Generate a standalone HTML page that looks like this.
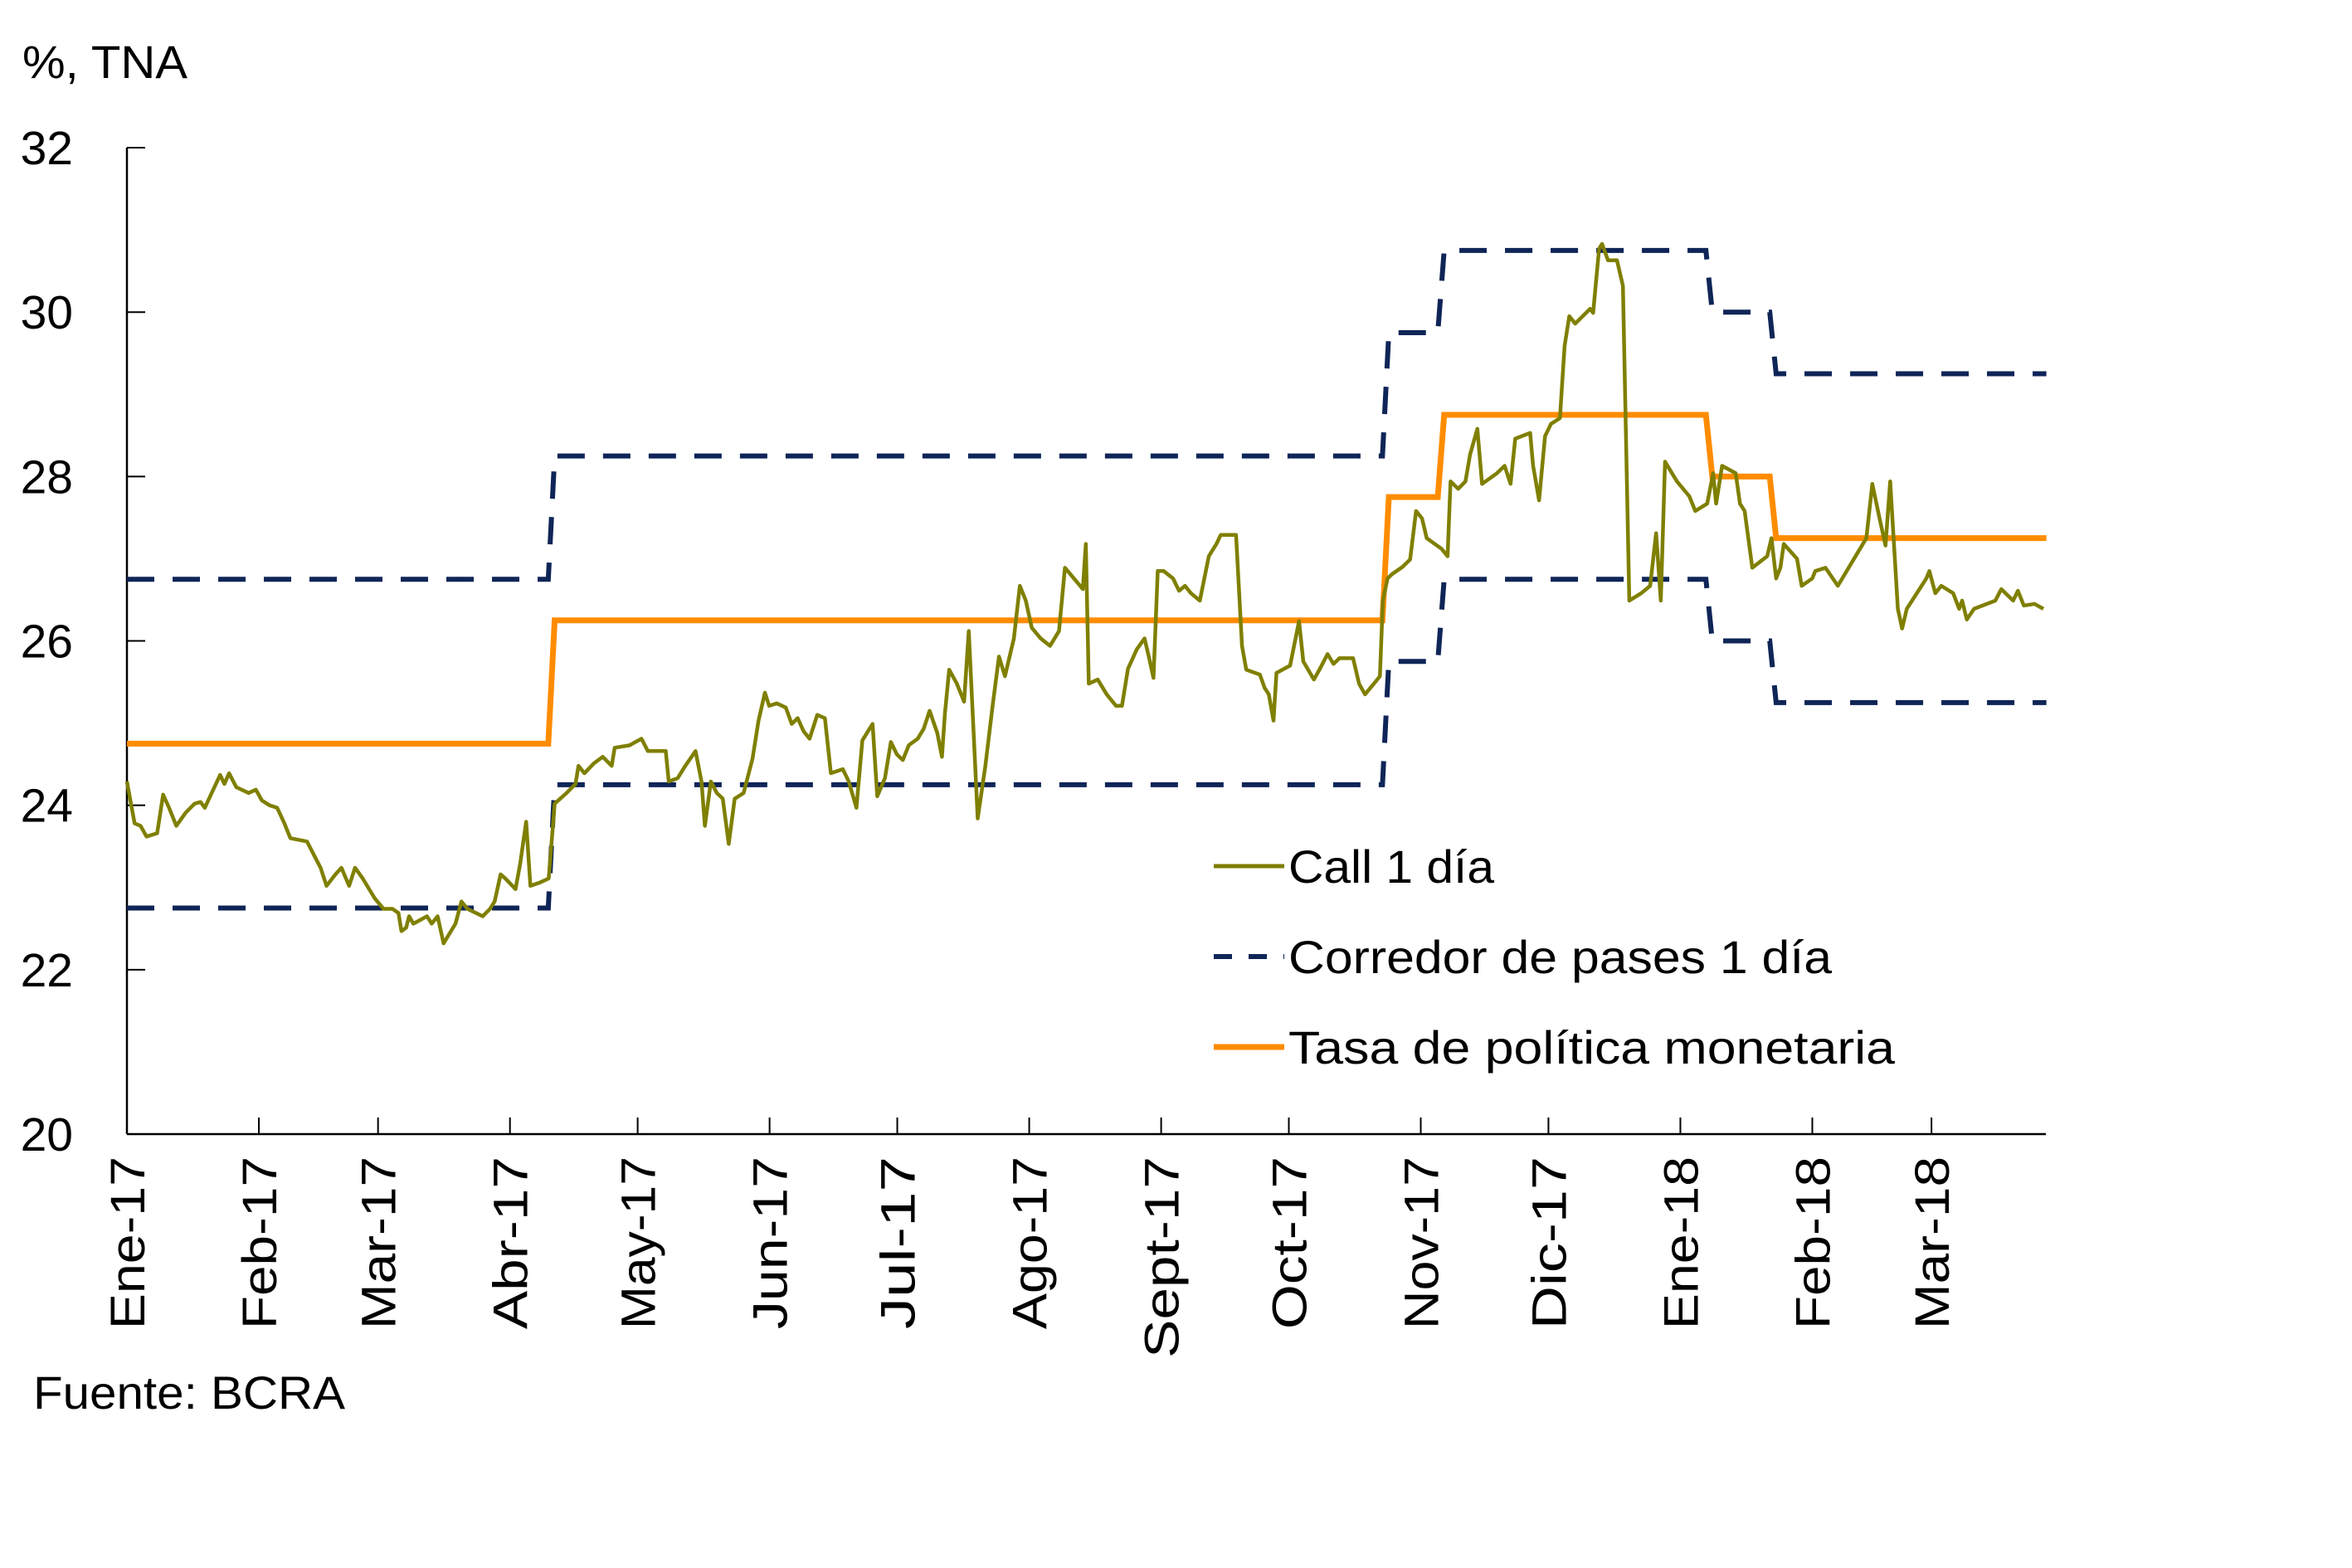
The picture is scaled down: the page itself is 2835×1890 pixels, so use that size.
<!DOCTYPE html>
<html><head><meta charset="utf-8"><style>
html,body{margin:0;padding:0;background:#fff;}
svg{display:block;font-family:"Liberation Sans",sans-serif;}
</style></head><body>
<svg id="chart" width="2835" height="1890" viewBox="0 0 2835 1890" xmlns="http://www.w3.org/2000/svg">
<text x="27" y="94" font-size="56" textLength="199" lengthAdjust="spacingAndGlyphs">%, TNA</text>
<text x="40" y="1698" font-size="56" textLength="376" lengthAdjust="spacingAndGlyphs">Fuente: BCRA</text>
<g id="axes"></g>
<g id="series"></g>
<g>
<line x1="1463" y1="1044" x2="1548" y2="1044" stroke="#7f7f00" stroke-width="5"/>
<text x="1553" y="1064" font-size="56" textLength="248" lengthAdjust="spacingAndGlyphs">Call 1 día</text>
<line x1="1463" y1="1153" x2="1548" y2="1153" stroke="#0f2557" stroke-width="6" stroke-dasharray="22,20"/>
<text x="1553" y="1173" font-size="56" textLength="655" lengthAdjust="spacingAndGlyphs">Corredor de pases 1 día</text>
<line x1="1463" y1="1262" x2="1548" y2="1262" stroke="#ff8c00" stroke-width="7"/>
<text x="1553" y="1282" font-size="56" textLength="731" lengthAdjust="spacingAndGlyphs">Tasa de política monetaria</text>
</g>
</svg>
<script>
const yTicks = [20,22,24,26,28,30,32];
const monthLabels = ["Ene-17","Feb-17","Mar-17","Abr-17","May-17","Jun-17","Jul-17","Ago-17","Sept-17","Oct-17","Nov-17","Dic-17","Ene-18","Feb-18","Mar-18"];
const monthDays = [0,31,59,90,120,151,181,212,243,273,304,334,365,396,424];
const stepDays = [0,100,296,309,372,387];
const upperCorridor = [26.75,28.25,29.75,30.75,30,29.25];
const lowerCorridor = [22.75,24.25,25.75,26.75,26,25.25];
const policyRate = [24.75,26.25,27.75,28.75,28,27.25];
const lastDay = 451;
const callDays = [0,1.8,3.2,4.6,7.1,8.5,9.9,11.6,13.8,15.9,17.3,18.3,20.1,21.9,22.9,24,25.7,28.6,30.3,31.7,33.5,35.3,37,38.4,42.3,44.1,45.5,46.9,49,50.4,52.2,53.6,55.4,58.2,60.3,62.4,63.8,64.5,65.6,66.3,67.3,70.5,71.6,73,74.4,77.2,78.6,80,83.6,85.3,86.4,87.8,88.9,91.3,92.4,93.8,94.8,97,99.1,100.5,103.3,105.4,106.1,107.5,109.7,111.8,113.9,114.6,118.1,120.9,122.4,126.6,127.3,129.4,131.2,133.6,135,135.8,137.2,138.6,140,141.4,142.8,144.9,147,148.4,149.9,150.9,152.7,154.8,156.2,157.6,159,160.4,162.2,164,165.4,168.2,169.6,171.4,172.8,175.2,176.3,178.1,179.5,180.9,182.3,183.7,185.8,187.2,188.6,190.4,191.5,192.2,193.2,195,196.7,197.8,199.9,201.7,203.4,204.9,206.3,208.4,209.8,211.2,212.6,214.7,216.9,219,220.4,222.5,224.6,225.3,226,228.1,230.2,232.4,233.8,235.2,237.3,239.1,240.1,241.2,242.2,243.6,245.8,247.2,248.6,250,252.1,254.2,256,257,260.6,262,263,266.2,267.3,268.3,269.4,270.1,273.3,275.4,276.4,278.9,280.3,282.1,283.5,284.9,288.1,289.5,290.9,293,294.4,295.1,296.2,297.2,299.7,301.5,302.9,304.3,305.4,308.9,310.3,311,312.8,314.5,315.6,317.3,318.4,321.9,323.7,325.1,326.2,329.7,330.4,331.8,333.2,334.6,336.7,337.8,338.9,340.3,343.8,344.5,345.9,346.6,348,350.1,351.5,353,355.8,357.9,359.3,360.4,361.4,364.2,367.1,368.5,371.3,372.7,373.4,374.8,378,379,380.1,381.9,385.4,386.4,387.5,388.5,389.3,392.4,393.5,394.9,396,396.7,399.1,402,408.7,410.1,411.8,413.2,414.3,416.1,417.1,418.2,422.8,423.5,424.9,426.3,429.1,430.5,431.2,432.3,434,439,440.4,443.2,444.3,445.7,448.2,450.3];
const callValues = [24.29,23.78,23.75,23.62,23.66,24.13,23.97,23.75,23.91,24.02,24.04,23.97,24.17,24.37,24.26,24.39,24.22,24.15,24.19,24.06,24,23.97,23.78,23.6,23.56,23.38,23.24,23.02,23.16,23.24,23.02,23.24,23.11,22.87,22.74,22.74,22.69,22.47,22.51,22.65,22.56,22.65,22.56,22.65,22.32,22.56,22.83,22.74,22.65,22.74,22.83,23.16,23.11,22.98,23.29,23.8,23.02,23.06,23.11,24.02,24.15,24.26,24.48,24.39,24.51,24.59,24.48,24.7,24.73,24.81,24.66,24.66,24.29,24.33,24.48,24.66,24.29,23.75,24.29,24.15,24.08,23.53,24.08,24.15,24.57,25.03,25.37,25.21,25.24,25.19,24.99,25.06,24.9,24.81,25.1,25.06,24.39,24.44,24.29,23.97,24.79,24.99,24.11,24.33,24.77,24.62,24.55,24.73,24.81,24.93,25.15,24.88,24.59,25.12,25.65,25.48,25.26,26.12,23.84,24.48,25.21,25.81,25.57,26.03,26.67,26.49,26.16,26.03,25.94,26.12,26.89,26.76,26.63,27.18,25.48,25.53,25.35,25.21,25.21,25.66,25.9,26.03,25.81,25.55,26.85,26.85,26.76,26.61,26.67,26.58,26.49,27.03,27.18,27.29,27.29,25.94,25.65,25.59,25.43,25.35,25.03,25.61,25.7,26.24,25.75,25.53,25.66,25.84,25.72,25.79,25.79,25.48,25.35,25.48,25.57,26.49,26.76,26.81,26.9,26.99,27.58,27.49,27.25,27.12,27.03,27.94,27.85,27.94,28.27,28.58,27.91,28.04,28.13,27.91,28.46,28.53,28.13,27.71,28.49,28.64,28.71,29.59,29.95,29.86,30.04,29.99,30.77,30.83,30.63,30.63,30.32,26.49,26.58,26.67,27.31,26.49,28.18,27.94,27.76,27.58,27.67,28.04,27.67,28.13,28.04,27.67,27.58,26.89,27.03,27.25,26.76,26.89,27.18,27,26.67,26.72,26.76,26.85,26.89,26.67,27.25,27.91,27.49,27.16,27.94,26.39,26.15,26.39,26.76,26.85,26.58,26.67,26.58,26.39,26.49,26.26,26.39,26.49,26.63,26.49,26.61,26.43,26.45,26.39];

const NS = "http://www.w3.org/2000/svg";
const X0 = 153, PXD = 5.13, YB = 1367, PXU = 99.08, XR = 2466;
const xs = d => X0 + d * PXD;
const ys = v => YB - (v - 20) * PXU;
function mk(tag, attrs, parent){ const e = document.createElementNS(NS, tag); for (const k in attrs) e.setAttribute(k, attrs[k]); parent.appendChild(e); return e; }
const axes = document.getElementById('axes');
const series = document.getElementById('series');

let el = mk('line', {x1:X0, y1:ys(32), x2:X0, y2:YB, stroke:'#000', 'stroke-width':2.5}, axes);


el = mk('line', {x1:X0, y1:YB, x2:XR, y2:YB, stroke:'#000', 'stroke-width':2.5}, axes);



yTicks.forEach(v => {
  const t = mk('line', {x1:X0, y1:ys(v), x2:X0+22, y2:ys(v), stroke:'#000', 'stroke-width':2}, axes);
  
  
  const l = mk('text', {x:88, y:ys(v)+20, 'font-size':57, 'text-anchor':'end'}, axes);
  l.textContent = v;
  
  
});
monthDays.forEach((d, i) => {
  const x = xs(d);
  if (i > 0) {
    const t = mk('line', {x1:x, y1:YB, x2:x, y2:YB-20, stroke:'#000', 'stroke-width':2}, axes);
    
    
  }
  const len = monthLabels[i].length * 34.7;
  const l = mk('text', {x:0, y:0, 'font-size':58, 'text-anchor':'end', transform:`translate(${x+21},1394) rotate(-90)`, textLength:len, lengthAdjust:'spacingAndGlyphs'}, axes);
  l.textContent = monthLabels[i];
  
  
});

function stepPath(vals){
  let p = `M${xs(stepDays[0])},${ys(vals[0])}`;
  for (let i = 1; i < stepDays.length; i++) {
    p += ` L${xs(stepDays[i]-1)},${ys(vals[i-1])} L${xs(stepDays[i]+0.5)},${ys(vals[i])}`;
  }
  p += ` L${xs(lastDay)},${ys(vals[vals.length-1])}`;
  return p;
}
el = mk('path', {d:stepPath(upperCorridor), fill:'none', stroke:'#0f2557', 'stroke-width':6, 'stroke-dasharray':'33,22'}, series);


el = mk('path', {d:stepPath(lowerCorridor), fill:'none', stroke:'#0f2557', 'stroke-width':6, 'stroke-dasharray':'33,22'}, series);


el = mk('path', {d:stepPath(policyRate), fill:'none', stroke:'#ff8c00', 'stroke-width':7}, series);


el = mk('path', {d:callDays.map((d,i)=>(i?'L':'M')+xs(d)+','+ys(callValues[i])).join(' '), fill:'none', stroke:'#7f7f00', 'stroke-width':4.5, 'stroke-linejoin':'round'}, series);


</script>
</body></html>
